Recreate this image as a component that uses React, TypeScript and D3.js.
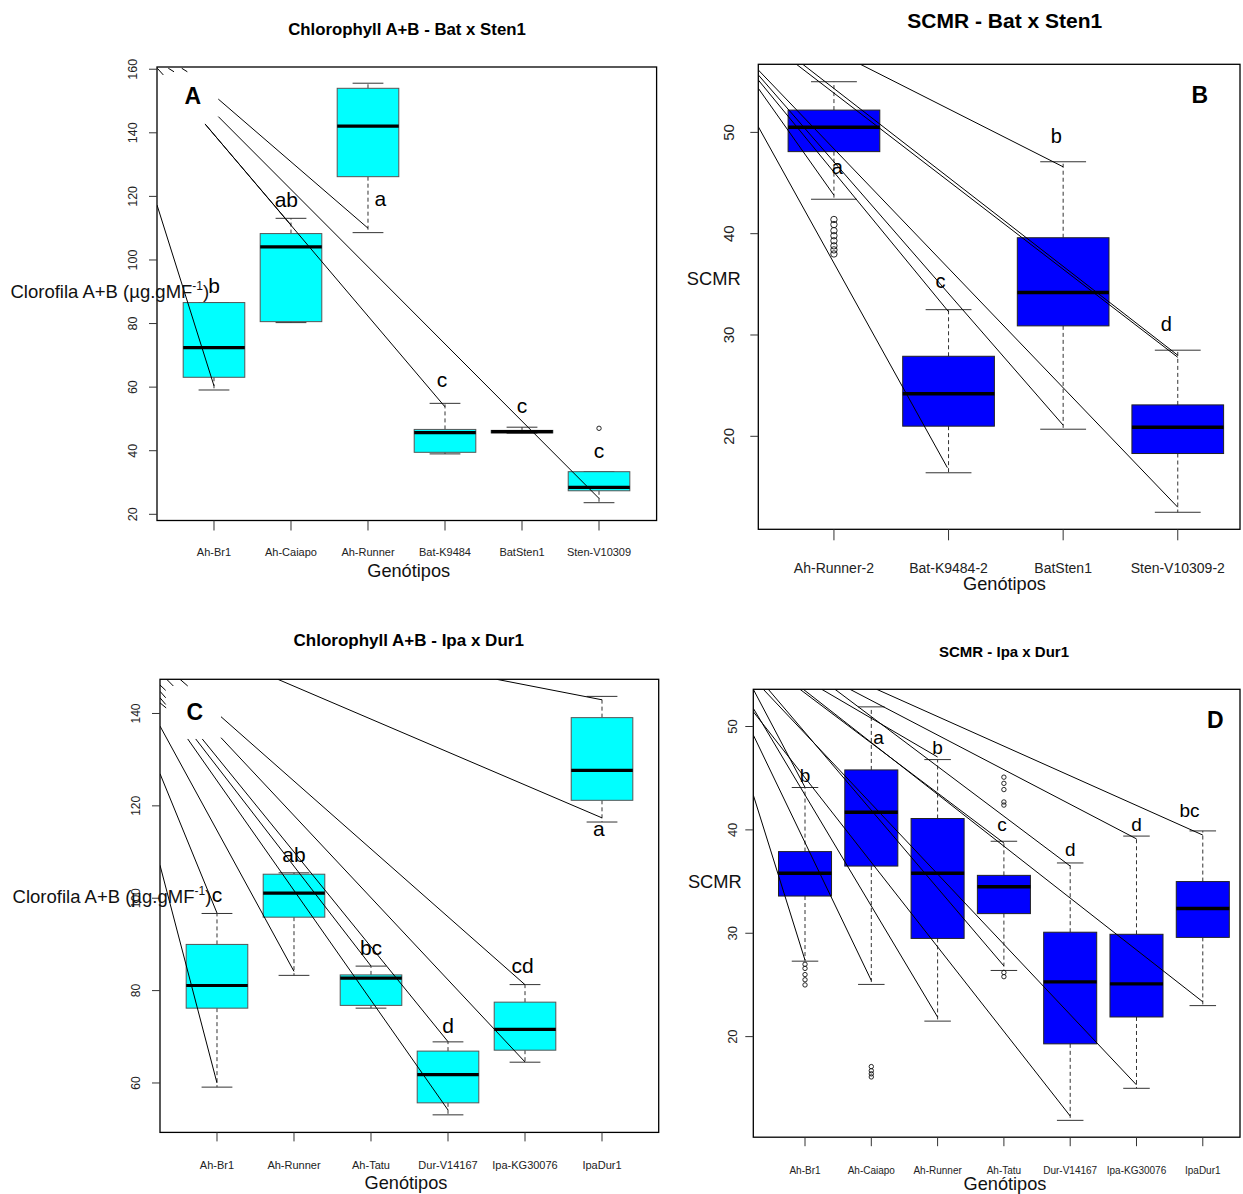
import React from 'react';
import * as d3 from 'd3';

const FONT = "'Liberation Sans', Arial, Helvetica, sans-serif";

// ---------- Panel A: Chlorophyll A+B - Bat x Sten1 ----------
const catsA = ['Ah-Br1', 'Ah-Caiapo', 'Ah-Runner', 'Bat-K9484', 'BatSten1', 'Sten-V10309'];
const lowA = [59.1, 80.3, 108.6, 39.0, 45.5, 23.65];
const q1A = [63.1, 80.6, 126.2, 39.5, 45.6, 27.4];
const medA = [72.4, 104.1, 142.1, 45.7, 46.0, 28.5];
const q3A = [86.6, 108.3, 154.0, 46.7, 46.4, 33.4];
const highA = [86.6, 113.1, 155.6, 54.9, 47.4, 33.4];
const outA: number[][] = [[], [], [], [], [], [47.05]];
const groupsA = ['b', 'ab', 'a', 'c', 'c', 'c'];
const groupYA = [89.7, 116.8, 117.0, 60.0, 51.8, 37.6];
const groupDxA = [0, -0.06, 0.16, -0.04, 0, 0];
const ticksA = [20, 40, 60, 80, 100, 120, 140, 160];
// annotation strokes [cat0, value0, cat1, value1]
const strokesA = [
  [0.26, 117.3, 1.0, 60.4],
  [1.056, 150.6, 3.0, 110.0],
  [1.056, 145.1, 6.0, 25.0],
  [0.883, 142.8, 4.0, 53.8],
  [0.89, 142.6, 2.0, 111.0],
  [0.264, 160.3, 0.342, 158.2],
  [0.407, 160.3, 0.481, 159.2],
  [0.581, 160.3, 0.654, 159.2],
];

// ---------- Panel B: SCMR - Bat x Sten1 ----------
const catsB = ['Ah-Runner-2', 'Bat-K9484-2', 'BatSten1', 'Sten-V10309-2'];
const lowB = [43.4, 16.4, 20.7, 12.5];
const q1B = [48.1, 21.0, 30.9, 18.3];
const medB = [50.5, 24.2, 34.2, 20.9];
const q3B = [52.2, 27.9, 39.6, 23.1];
const highB = [55.0, 32.5, 47.1, 28.5];
const outB: number[][] = [[41.4, 40.9, 40.3, 39.8, 39.3, 38.8, 38.4, 38.0], [], [], []];
const groupsB = ['a', 'c', 'b', 'd'];
const groupYB = [45.9, 34.66, 49.0, 30.36];
const groupDxB = [0.03, -0.07, -0.06, -0.1];
const ticksB = [20, 30, 40, 50];
const strokesB = [
  [0.34, 50.56, 1.99, 16.9],
  [0.34, 54.35, 1.0, 43.8],
  [0.34, 55.17, 2.0, 32.3],
  [0.34, 55.67, 3.0, 21.1],
  [0.34, 56.16, 4.0, 13.0],
  [0.728, 56.72, 4.0, 28.0],
  [0.673, 56.72, 4.0, 27.8],
  [1.231, 56.72, 3.0, 46.6],
];

// ---------- Panel C: Chlorophyll A+B - Ipa x Dur1 ----------
const catsC = ['Ah-Br1', 'Ah-Runner', 'Ah-Tatu', 'Dur-V14167', 'Ipa-KG30076', 'IpaDur1'];
const lowC = [59.1, 83.3, 76.2, 53.1, 64.5, 116.5];
const q1C = [76.2, 95.9, 76.8, 55.7, 67.1, 121.2];
const medC = [81.1, 101.1, 82.7, 61.8, 71.6, 127.7];
const q3C = [90.0, 105.2, 83.4, 66.9, 77.5, 139.1];
const highC = [96.7, 105.5, 85.3, 68.9, 81.3, 143.7];
const outC: number[][] = [[], [], [], [], [], []];
const groupsC = ['c', 'ab', 'bc', 'd', 'cd', 'a'];
const groupYC = [99.25, 107.9, 87.7, 70.76, 83.9, 113.5];
const groupDxC = [0, 0, 0, 0, -0.03, -0.04];
const ticksC = [60, 80, 100, 120, 140];
const strokesC = [
  [1.79, 147.4, 6.0, 117.4],
  [4.631, 147.4, 6.0, 142.96],
  [0.26, 107.15, 1.0, 60.0],
  [0.26, 126.96, 1.0, 96.8],
  [0.26, 137.27, 2.0, 84.16],
  [0.62, 134.48, 4.0, 54.15],
  [0.724, 134.48, 3.0, 85.33],
  [0.809, 134.48, 4.0, 68.94],
  [1.052, 139.3, 5.0, 81.28],
  [1.052, 134.76, 5.0, 64.55],
  [0.347, 147.4, 0.433, 145.95],
  [0.52, 147.4, 0.62, 145.95],
  [0.26, 146.17, 0.334, 145.0],
  [0.26, 144.8, 0.334, 143.4],
  [0.26, 143.4, 0.334, 141.95],
  [0.26, 142.3, 0.34, 141.2],
];

// ---------- Panel D: SCMR - Ipa x Dur1 ----------
const catsD = ['Ah-Br1', 'Ah-Caiapo', 'Ah-Runner', 'Ah-Tatu', 'Dur-V14167', 'Ipa-KG30076', 'IpaDur1'];
const lowD = [27.3, 25.05, 21.5, 26.4, 11.9, 15.0, 23.0];
const q1D = [33.6, 36.5, 29.5, 31.9, 19.3, 21.9, 29.6];
const medD = [35.8, 41.7, 35.8, 34.5, 25.3, 25.1, 32.4];
const q3D = [37.9, 45.8, 41.1, 35.6, 30.1, 29.9, 35.0];
const highD = [44.1, 51.9, 46.8, 38.9, 36.8, 39.4, 39.9];
const outD: number[][] = [
  [27.0, 26.6, 26.0, 25.5, 25.0],
  [17.1, 16.7, 16.4, 16.1],
  [],
  [45.1, 44.5, 43.9, 42.7, 42.4, 26.2, 25.8],
  [],
  [],
  [],
];
const groupsD = ['b', 'a', 'b', 'c', 'd', 'd', 'bc'];
const groupYD = [44.66, 48.3, 47.34, 39.92, 37.47, 39.92, 41.22];
const groupDxD = [0, 0.11, 0, -0.03, 0, 0, -0.2];
const ticksD = [20, 30, 40, 50];
const strokesD = [
  [0.22, 43.37, 1.0, 27.4],
  [0.22, 49.18, 2.0, 25.43],
  [0.22, 51.76, 3.0, 21.89],
  [0.22, 51.43, 5.0, 12.32],
  [0.446, 53.6, 4.0, 26.84],
  [0.371, 53.6, 6.0, 15.33],
  [0.974, 53.6, 7.0, 23.37],
  [0.924, 53.6, 4.0, 38.73],
  [1.252, 53.6, 3.0, 47.05],
  [1.452, 53.6, 5.0, 36.5],
  [1.678, 53.6, 6.0, 39.13],
  [2.081, 53.6, 7.0, 39.5],
  [0.22, 53.6, 1.0, 44.12],
];

type Cfg = {
  id: string;
  cats: string[]; lo: number[]; q1: number[]; med: number[]; q3: number[]; hi: number[];
  out: number[][]; groups: string[]; groupY: number[]; groupDx: number[]; ticks: number[];
  strokes: number[][];
  xDomain: [number, number]; xRange: [number, number];
  yDomain: [number, number]; yRange: [number, number];
  frame: { x0: number; x1: number; y0: number; y1: number };
  fill: string; boxStroke: string; medW: number; outR: number;
  title: string; titleX: number; titleY: number; titleSize: number;
  label: string; labelX: number; labelY: number;
  yTickX: number; yTickSize: number; xTickY: number; xTickSize: number; xTickLen: number;
  letterSize: number;
  xlabX: number; xlabY: number;
  ylab: string; ylabX: number; ylabY: number; ylabSup: boolean;
};

const cfgs: Cfg[] = [
  {
    id: 'A', cats: catsA, lo: lowA, q1: q1A, med: medA, q3: q3A, hi: highA, out: outA,
    groups: groupsA, groupY: groupYA, groupDx: groupDxA, ticks: ticksA, strokes: strokesA,
    xDomain: [0.26, 6.74], xRange: [157, 656], yDomain: [18.05, 160.7], yRange: [520.5, 67],
    frame: { x0: 157, x1: 656.6, y0: 67, y1: 520.5 },
    fill: '#00FFFF', boxStroke: '#555', medW: 3.2, outR: 2.2,
    title: 'Chlorophyll A+B - Bat x Sten1', titleX: 407, titleY: 34.5, titleSize: 16.8,
    label: 'A', labelX: 192.8, labelY: 104.1,
    yTickX: 133, yTickSize: 12.5, xTickY: 552, xTickSize: 11, xTickLen: 10, letterSize: 21,
    xlabX: 408.7, xlabY: 576.5, ylab: 'Clorofila A+B (µg.gMF', ylabX: 10.5, ylabY: 297.7, ylabSup: true,
  },
  {
    id: 'B', cats: catsB, lo: lowB, q1: q1B, med: medB, q3: q3B, hi: highB, out: outB,
    groups: groupsB, groupY: groupYB, groupDx: groupDxB, ticks: ticksB, strokes: strokesB,
    xDomain: [0.34, 4.66], xRange: [758.3, 1253.4], yDomain: [10.82, 56.72], yRange: [529.3, 64.3],
    frame: { x0: 758.3, x1: 1240, y0: 64.3, y1: 529.3 },
    fill: '#0000FF', boxStroke: '#222', medW: 3.6, outR: 3.2,
    title: 'SCMR - Bat x Sten1', titleX: 1004.8, titleY: 27.6, titleSize: 21,
    label: 'B', labelX: 1199.8, labelY: 103.3,
    yTickX: 728.8, yTickSize: 15, xTickY: 567.5, xTickSize: 14, xTickLen: 11, letterSize: 20,
    xlabX: 1004.5, xlabY: 590, ylab: 'SCMR', ylabX: 686.8, ylabY: 285, ylabSup: false,
  },
  {
    id: 'C', cats: catsC, lo: lowC, q1: q1C, med: medC, q3: q3C, hi: highC, out: outC,
    groups: groupsC, groupY: groupYC, groupDx: groupDxC, ticks: ticksC, strokes: strokesC,
    xDomain: [0.26, 6.74], xRange: [160, 659], yDomain: [49.3, 147.4], yRange: [1132.4, 679.3],
    frame: { x0: 160, x1: 658.7, y0: 679.3, y1: 1132.4 },
    fill: '#00FFFF', boxStroke: '#555', medW: 3.2, outR: 2.2,
    title: 'Chlorophyll A+B - Ipa x Dur1', titleX: 408.7, titleY: 646.4, titleSize: 17,
    label: 'C', labelX: 194.7, labelY: 719.5,
    yTickX: 135.5, yTickSize: 12, xTickY: 1164.6, xTickSize: 11, xTickLen: 9, letterSize: 21,
    xlabX: 406, xlabY: 1189, ylab: 'Clorofila A+B (µg.gMF', ylabX: 12.6, ylabY: 902.6, ylabSup: true,
  },
  {
    id: 'D', cats: catsD, lo: lowD, q1: q1D, med: medD, q3: q3D, hi: highD, out: outD,
    groups: groupsD, groupY: groupYD, groupDx: groupDxD, ticks: ticksD, strokes: strokesD,
    xDomain: [0.22, 7.78], xRange: [753.3, 1254.5], yDomain: [10.27, 53.6], yRange: [1137.2, 689.3],
    frame: { x0: 753.3, x1: 1240, y0: 689.3, y1: 1137.2 },
    fill: '#0000FF', boxStroke: '#222', medW: 3.4, outR: 2.2,
    title: 'SCMR - Ipa x Dur1', titleX: 1004, titleY: 657.3, titleSize: 15,
    label: 'D', labelX: 1215.2, labelY: 728.3,
    yTickX: 732, yTickSize: 13, xTickY: 1170.2, xTickSize: 10, xTickLen: 9, letterSize: 19,
    xlabX: 1005, xlabY: 1190, ylab: 'SCMR', ylabX: 687.9, ylabY: 888.3, ylabSup: false,
  },
];

function Panel({ c }: { c: Cfg }) {
  const x = d3.scaleLinear().domain(c.xDomain).range(c.xRange);
  const y = d3.scaleLinear().domain(c.yDomain).range(c.yRange);
  const f = c.frame;
  const clipId = 'clip-' + c.id;
  const bw = 0.4;
  const cw = 0.2;
  const wCol = '#333';
  return (
    <g fontFamily={FONT}>
      <defs>
        <clipPath id={clipId}>
          <rect x={f.x0} y={f.y0} width={f.x1 - f.x0} height={f.y1 - f.y0} />
        </clipPath>
      </defs>
      {c.cats.map((name, i) => {
        const k = i + 1;
        return (
          <g key={name}>
            <line x1={x(k)} x2={x(k)} y1={y(c.q3[i])} y2={y(c.hi[i])} stroke={wCol} strokeWidth={1} strokeDasharray="4 3" />
            <line x1={x(k)} x2={x(k)} y1={y(c.q1[i])} y2={y(c.lo[i])} stroke={wCol} strokeWidth={1} strokeDasharray="4 3" />
            <line x1={x(k - cw)} x2={x(k + cw)} y1={y(c.hi[i])} y2={y(c.hi[i])} stroke={wCol} strokeWidth={1} />
            <line x1={x(k - cw)} x2={x(k + cw)} y1={y(c.lo[i])} y2={y(c.lo[i])} stroke={wCol} strokeWidth={1} />
            <rect x={x(k - bw)} y={y(c.q3[i])} width={x(k + bw) - x(k - bw)}
              height={Math.max(0.5, y(c.q1[i]) - y(c.q3[i]))} fill={c.fill} stroke={c.boxStroke} strokeWidth={1} />
            <line x1={x(k - bw)} x2={x(k + bw)} y1={y(c.med[i])} y2={y(c.med[i])} stroke="#000" strokeWidth={c.medW} />
            {c.out[i].map((v, j) => (
              <circle key={j} cx={x(k)} cy={y(v)} r={c.outR} fill="none" stroke="#111" strokeWidth={0.9} />
            ))}
            <text x={x(k + c.groupDx[i])} y={y(c.groupY[i])} fontSize={c.letterSize} textAnchor="middle" fill="#000">
              {c.groups[i]}
            </text>
          </g>
        );
      })}
      <g clipPath={`url(#${clipId})`}>
        {c.strokes.map((s, i) => (
          <line key={i} x1={x(s[0])} y1={y(s[1])} x2={x(s[2])} y2={y(s[3])} stroke="#000" strokeWidth={1} />
        ))}
      </g>
      <rect x={f.x0} y={f.y0} width={f.x1 - f.x0} height={f.y1 - f.y0} fill="none" stroke="#000" strokeWidth={1.3} />
      {c.ticks.map((t) => (
        <g key={t}>
          <line x1={f.x0 - 8} x2={f.x0} y1={y(t)} y2={y(t)} stroke="#333" strokeWidth={1} />
          <text transform={`translate(${c.yTickX},${y(t)}) rotate(-90)`} textAnchor="middle" dominantBaseline="central"
            fontSize={c.yTickSize} fill="#222">{t}</text>
        </g>
      ))}
      {c.cats.map((name, i) => (
        <g key={'xt' + name}>
          <line x1={x(i + 1)} x2={x(i + 1)} y1={f.y1} y2={f.y1 + c.xTickLen} stroke="#333" strokeWidth={1} />
          <text x={x(i + 1)} y={c.xTickY} textAnchor="middle" dominantBaseline="central" fontSize={c.xTickSize} fill="#222">
            {name}
          </text>
        </g>
      ))}
      <text x={c.titleX} y={c.titleY} textAnchor="middle" fontSize={c.titleSize} fontWeight="bold" fill="#000">{c.title}</text>
      <text x={c.labelX} y={c.labelY} textAnchor="middle" fontSize={23} fontWeight="bold" fill="#000">{c.label}</text>
      <text x={c.xlabX} y={c.xlabY} textAnchor="middle" fontSize={18.2} fill="#111">Genótipos</text>
      {c.ylabSup ? (
        <text x={c.ylabX} y={c.ylabY} fontSize={18.5} fill="#111">
          {c.ylab}
          <tspan fontSize={12} dy={-8}>-1</tspan>
          <tspan fontSize={18.5} dy={8}>)</tspan>
        </text>
      ) : (
        <text x={c.ylabX} y={c.ylabY} fontSize={18.3} fill="#111">{c.ylab}</text>
      )}
    </g>
  );
}

export default function App() {
  return (
    <svg width={1243} height={1194} viewBox="0 0 1243 1194"
      style={{ position: 'absolute', left: 0, top: 0, background: '#fff' }}>
      <rect x={0} y={0} width={1243} height={1194} fill="#fff" />
      {cfgs.map((c) => <Panel key={c.id} c={c} />)}
    </svg>
  );
}
